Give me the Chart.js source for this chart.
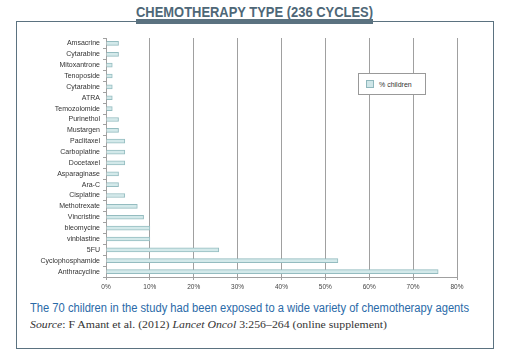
<!DOCTYPE html>
<html>
<head>
<meta charset="utf-8">
<script src="https://cdn.jsdelivr.net/npm/chart.js@4"></script>
<style>
  html, body { margin: 0; padding: 0; background: #fff; }
  body { width: 509px; height: 361px; position: relative; overflow: hidden; }
  #frame { position: absolute; left: 16px; top: 21px; width: 476px; height: 326px; border: 1px solid #5b7280; }
  #title { position: absolute; left: 136px; top: 4px; width: 237px; height: 21px; background: #fff; }
  #title span { position: absolute; left: 0; top: 0; white-space: nowrap; transform-origin: 0 0; line-height: 15px;
    font: bold 14px 'Liberation Sans', sans-serif; color: #4e6777; }
  #title i { position: absolute; left: 0; top: 15px; width: 237px; height: 5px; background: #5b7280; }
  #chartbox { position: absolute; left: 20px; top: 28px; width: 460px; height: 270px; }
  #legend { position: absolute; left: 358px; top: 73px; width: 66px; height: 20px; border: 1px solid #999; background: #fff;
    font: 7px 'Liberation Sans', sans-serif; color: #333; display: flex; align-items: center; }
  #legend b { width: 6px; height: 6px; background: #cfe6e8; border: 1px solid #8fb7bc; margin: 0 5px 0 7px; }
  .fit { position: absolute; white-space: nowrap; transform-origin: 0 0; }
  #caption { left: 30px; top: 301px; font: 12.5px 'Liberation Sans', sans-serif; color: #2a6aa8; }
  #source { left: 30px; top: 319px; font: 10.5px 'Liberation Serif', serif; color: #333; }
</style>
</head>
<body>
<div id="frame"></div>
<div id="title"><span id="titleText">CHEMOTHERAPY TYPE (236 CYCLES)</span><i></i></div>
<div id="chartbox"><canvas id="chemoChart"></canvas></div>
<div id="legend"><b></b>% children</div>
<div id="caption" class="fit">The 70 children in the study had been exposed to a wide variety of chemotherapy agents</div>
<div id="source" class="fit"><i>Source</i>: F Amant et al. (2012) <i>Lancet Oncol</i> 3:256–264 (online supplement)</div>
<script>
// Agentes (de arriba hacia abajo) y porcentaje de niños expuestos
const agentes = ['Amsacrine', 'Cytarabine', 'Mitoxantrone', 'Tenoposide', 'Cytarabine', 'ATRA', 'Temozolomide',
    'Purinethol', 'Mustargen', 'Paclitaxel', 'Carboplatine', 'Docetaxel', 'Asparaginase', 'Ara-C', 'Cisplatine',
    'Methotrexate', 'Vincristine', 'bleomycine', 'vinblastine', '5FU', 'Cyclophosphamide', 'Anthracycline'];
const pctNinos = [2.86, 2.86, 1.43, 1.43, 1.43, 1.43, 1.43,
    2.86, 2.86, 4.29, 4.29, 4.29, 2.86, 2.86, 4.29,
    7.14, 8.57, 10, 10, 25.71, 52.86, 75.71];
const ticksX = [0, 10, 20, 30, 40, 50, 60, 70, 80];

// Ajustar textos condensados al ancho del original
function ajustar(id, ancho) {
    const el = document.getElementById(id);
    el.style.transform = 'scaleX(' + (ancho / el.getBoundingClientRect().width) + ')';
}
ajustar('titleText', 237);
ajustar('caption', 439);
ajustar('source', 357);

const chemoChart = new Chart(document.getElementById('chemoChart'), {
    type: 'bar',
    data: {
        labels: agentes,
        datasets: [{
            label: '% children',
            data: pctNinos,
            backgroundColor: '#d3e9ea',
            borderColor: '#94bcc0',
            borderWidth: 1,
            barThickness: 4
        }]
    },
    options: {
        indexAxis: 'y',
        responsive: true,
        maintainAspectRatio: false,
        animation: false,
        layout: { padding: { top: 10, right: 23, left: 0, bottom: 0 } },
        plugins: { legend: { display: false }, tooltip: { enabled: false } },
        scales: {
            x: {
                min: 0, max: 80,
                afterBuildTicks: s => { s.ticks = ticksX.map(v => ({ value: v })); },
                afterFit: s => { s.height = 21; },
                ticks: { callback: v => v + '%', font: { size: 6.5, family: 'Liberation Sans' }, color: '#444', padding: 3 },
                grid: { color: '#a0a0a0', lineWidth: 1, tickLength: 3 },
                border: { color: '#a0a0a0' }
            },
            y: {
                afterFit: s => { s.width = 86; },
                ticks: { font: { size: 7, family: 'Liberation Sans' }, color: '#333', padding: 3, autoSkip: false },
                grid: { drawOnChartArea: false, offset: true, tickLength: 3, color: '#a0a0a0' },
                border: { color: '#a0a0a0' }
            }
        }
    }
});
</script>
</body>
</html>
